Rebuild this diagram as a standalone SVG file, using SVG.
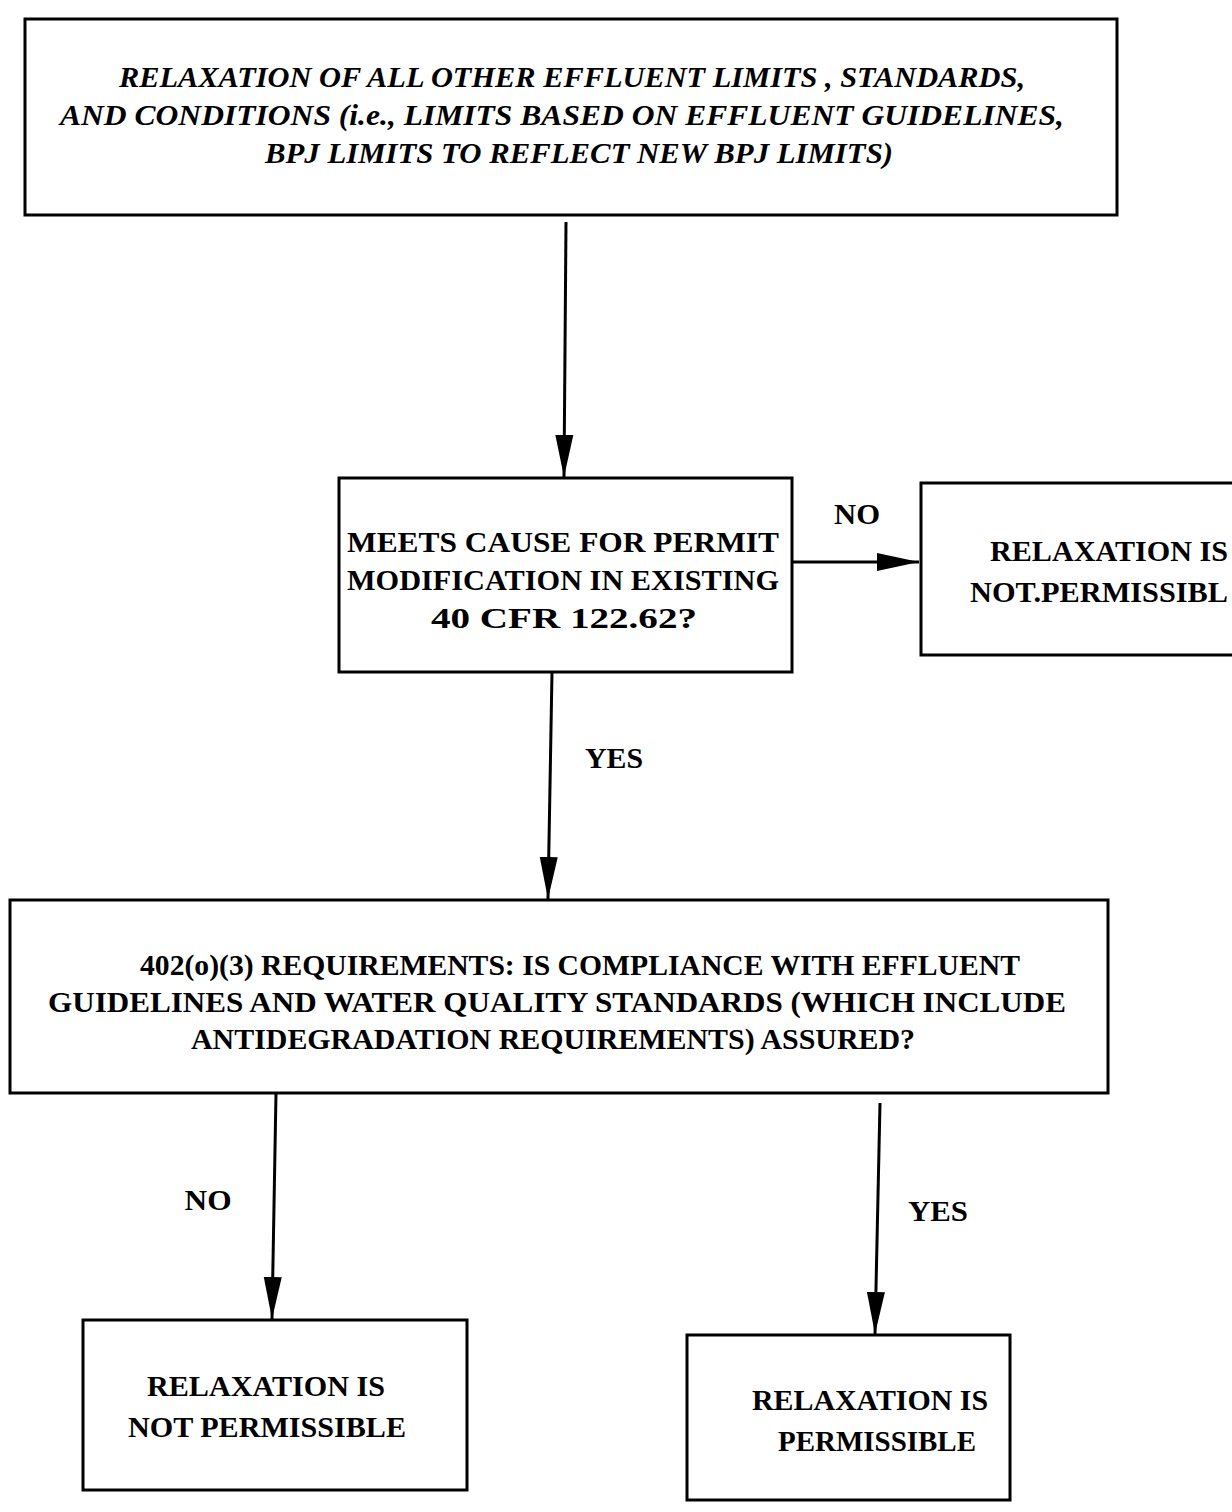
<svg xmlns="http://www.w3.org/2000/svg" width="1232" height="1512" viewBox="0 0 1232 1512">
<style>
.box{fill:none;stroke:#000;stroke-width:3}
.t{font-family:"Liberation Serif",serif;font-weight:bold;font-size:30px;fill:#000;text-anchor:middle}
.i{font-style:italic}
.c{stroke:#000;stroke-width:3;fill:none}
</style>
<defs>
<marker id="ah" markerUnits="userSpaceOnUse" markerWidth="44" markerHeight="20" refX="42" refY="10" orient="auto">
<path d="M0,1 L42,10 L0,19 Z" fill="#000"/>
</marker>
</defs>
<rect width="1232" height="1512" fill="#fff"/>
<g id="connectors">
<line class="c" x1="566" y1="222" x2="564" y2="477" marker-end="url(#ah)"/>
<line class="c" x1="792" y1="562" x2="919" y2="562" marker-end="url(#ah)"/>
<line class="c" x1="552" y1="672" x2="548" y2="899" marker-end="url(#ah)"/>
<line class="c" x1="276" y1="1093" x2="272" y2="1319" marker-end="url(#ah)"/>
<line class="c" x1="880" y1="1103" x2="875" y2="1334" marker-end="url(#ah)"/>
<text class="t" x="857" y="524" textLength="46" lengthAdjust="spacingAndGlyphs">NO</text>
<text class="t" x="614" y="768" textLength="58" lengthAdjust="spacingAndGlyphs">YES</text>
<text class="t" x="208" y="1210" textLength="47" lengthAdjust="spacingAndGlyphs">NO</text>
<text class="t" x="938" y="1221" textLength="60" lengthAdjust="spacingAndGlyphs">YES</text>
</g>
<g id="n1">
<rect class="box" x="25" y="19" width="1092" height="196"/>
<text class="t i" x="572" y="87" textLength="906" lengthAdjust="spacingAndGlyphs">RELAXATION OF  ALL OTHER EFFLUENT LIMITS ,  STANDARDS,</text>
<text class="t i" x="562" y="125" textLength="1004" lengthAdjust="spacingAndGlyphs">AND CONDITIONS (i.e., LIMITS BASED ON EFFLUENT  GUIDELINES,</text>
<text class="t i" x="579" y="163" textLength="628" lengthAdjust="spacingAndGlyphs">BPJ LIMITS TO REFLECT NEW BPJ LIMITS)</text>
</g>
<g id="n2">
<rect class="box" x="339" y="478" width="453" height="194"/>
<text class="t" x="563" y="552" textLength="432" lengthAdjust="spacingAndGlyphs">MEETS  CAUSE FOR PERMIT</text>
<text class="t" x="563" y="590" textLength="432" lengthAdjust="spacingAndGlyphs">MODIFICATION IN EXISTING</text>
<text class="t" x="564" y="628" textLength="266" lengthAdjust="spacingAndGlyphs">40 CFR 122.62?</text>
</g>
<g id="n3">
<rect class="box" x="921" y="483" width="320" height="172"/>
<text class="t" x="1109" y="561" textLength="238" lengthAdjust="spacingAndGlyphs">RELAXATION IS</text>
<text class="t" x="1099" y="602" textLength="258" lengthAdjust="spacingAndGlyphs">NOT.PERMISSIBL</text>
</g>
<g id="n4">
<rect class="box" x="10" y="900" width="1098" height="193"/>
<text class="t" x="580" y="975" textLength="880" lengthAdjust="spacingAndGlyphs">402(o)(3) REQUIREMENTS:  IS COMPLIANCE WITH EFFLUENT</text>
<text class="t" x="557" y="1012" textLength="1018" lengthAdjust="spacingAndGlyphs">GUIDELINES  AND WATER QUALITY STANDARDS (WHICH INCLUDE</text>
<text class="t" x="553" y="1049" textLength="724" lengthAdjust="spacingAndGlyphs">ANTIDEGRADATION REQUIREMENTS) ASSURED?</text>
</g>
<g id="n5">
<rect class="box" x="83" y="1320" width="384" height="170"/>
<text class="t" x="266" y="1396" textLength="238" lengthAdjust="spacingAndGlyphs">RELAXATION IS</text>
<text class="t" x="267" y="1437" textLength="278" lengthAdjust="spacingAndGlyphs">NOT PERMISSIBLE</text>
</g>
<g id="n6">
<rect class="box" x="687" y="1335" width="323" height="165"/>
<text class="t" x="870" y="1410" textLength="236" lengthAdjust="spacingAndGlyphs">RELAXATION IS</text>
<text class="t" x="877" y="1451" textLength="198" lengthAdjust="spacingAndGlyphs">PERMISSIBLE</text>
</g>
</svg>
